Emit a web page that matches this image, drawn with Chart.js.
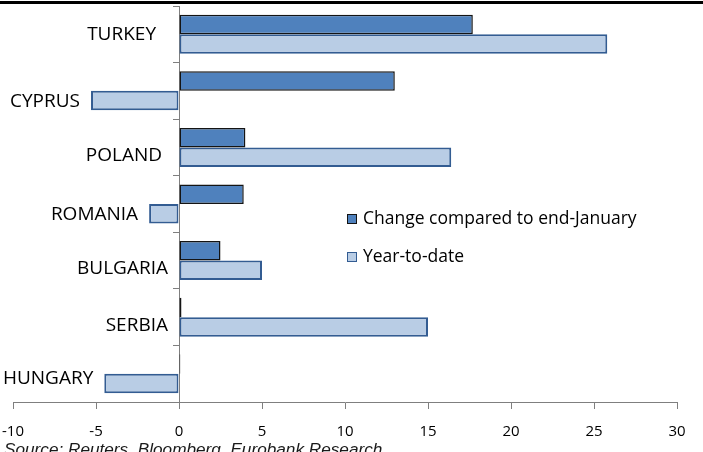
<!DOCTYPE html>
<html>
<head>
<meta charset="utf-8">
<script src="https://cdn.jsdelivr.net/npm/chart.js@4/dist/chart.umd.min.js"></script>
<style>
  html, body { margin: 0; padding: 0; background: #ffffff; }
  #wrap { width: 703px; height: 452px; position: relative; }
</style>
</head>
<body>
<div id="wrap"><canvas id="c" width="703" height="452"></canvas></div>
<script>
// Stock market performance, % change
const countries = ['TURKEY', 'CYPRUS', 'POLAND', 'ROMANIA', 'BULGARIA', 'SERBIA', 'HUNGARY'];
const changeSinceJanEnd = [17.7, 13.0, 4.0, 3.9, 2.5, 0.15, 0.08];
const yearToDate = [25.8, -5.3, 16.4, -1.8, 5.0, 15.0, -4.5];
const xTicks = [-10, -5, 0, 5, 10, 15, 20, 25, 30];
const seriesNames = ['Change compared to end-January', 'Year-to-date'];
const sourceNote = 'Source: Reuters, Bloomberg, Eurobank Research';

const FONT = '"Open Sans", "Noto Sans", sans-serif';
const AXIS_GREY = '#7f7f7f';

// Country names sit just left of the axis, or of a negative bar when there is one
const countryLabels = {
  id: 'countryLabels',
  afterDatasetsDraw(chart) {
    const ctx = chart.ctx;
    const xs = chart.scales.x;
    const meta = chart.getDatasetMeta(1);
    const nudge = {
      TURKEY: { dx: -12, dy: -10 }, POLAND: { dx: -6, dy: -2.5 },
      BULGARIA: { dx: 0, dy: -2 }, SERBIA: { dx: 0, dy: -1.5 }, HUNGARY: { dx: 0, dy: -5 }
    };
    ctx.save();
    ctx.font = '19px ' + FONT;
    ctx.fillStyle = '#000000';
    ctx.textAlign = 'right';
    ctx.textBaseline = 'middle';
    countries.forEach((name, i) => {
      const bar = meta.data[i];
      const n = nudge[name] || { dx: 0, dy: 0 };
      const xRight = xs.getPixelForValue(Math.min(0, yearToDate[i])) - 11 + n.dx;
      ctx.fillText(name, xRight, bar.y + 0.5 + n.dy);
    });
    ctx.restore();
  }
};

// Legend boxes drawn inside the plot, right of the axis
const innerLegend = {
  id: 'innerLegend',
  afterDraw(chart) {
    const ctx = chart.ctx;
    const left = 347, top = 219, rowGap = 38, box = 10;
    ctx.save();
    ctx.font = '17.5px ' + FONT;
    ctx.textBaseline = 'middle';
    ctx.textAlign = 'left';
    chart.data.datasets.forEach((ds, i) => {
      const cy = top + i * rowGap;
      ctx.fillStyle = ds.backgroundColor;
      ctx.fillRect(left, cy - box / 2, box, box);
      ctx.strokeStyle = ds.borderColor;
      ctx.lineWidth = 1;
      ctx.strokeRect(left + 0.5, cy - box / 2 + 0.5, box - 1, box - 1);
      ctx.fillStyle = '#000000';
      ctx.fillText(ds.label, left + 16, cy);
    });
    ctx.restore();
  }
};

// Rule across the top edge and the source line at the foot
const frame = {
  id: 'frame',
  afterDraw(chart) {
    const ctx = chart.ctx;
    ctx.save();
    ctx.fillStyle = '#000000';
    ctx.fillRect(0, 1, chart.width, 3);
    ctx.font = 'italic 17.2px "Liberation Sans", Arial, sans-serif';
    ctx.textAlign = 'left';
    ctx.textBaseline = 'top';
    ctx.fillStyle = '#1a1a1a';
    ctx.fillText(sourceNote, 4, 442);
    ctx.restore();
  }
};

new Chart(document.getElementById('c'), {
  type: 'bar',
  data: {
    labels: countries,
    datasets: [
      {
        label: seriesNames[0],
        data: changeSinceJanEnd,
        backgroundColor: '#4f81bd',
        borderColor: '#141414',
        borderWidth: 1.5,
        borderSkipped: false
      },
      {
        label: seriesNames[1],
        data: yearToDate,
        backgroundColor: '#b9cde5',
        borderColor: '#335c92',
        borderWidth: 2,
        borderSkipped: false
      }
    ]
  },
  options: {
    indexAxis: 'y',
    responsive: false,
    animation: false,
    devicePixelRatio: 1,
    categoryPercentage: 0.69,
    barPercentage: 1.0,
    layout: { padding: { left: 13, right: 26, top: 6, bottom: 12 } },
    plugins: {
      legend: { display: false },
      tooltip: { enabled: false }
    },
    scales: {
      x: {
        type: 'linear',
        min: -10,
        max: 30,
        afterBuildTicks: (s) => { s.ticks = xTicks.map(v => ({ value: v })); },
        afterFit: (s) => { s.height = 38; s.paddingLeft = 0; s.paddingRight = 0; },
        grid: { drawOnChartArea: false, drawTicks: true, tickLength: 7, color: AXIS_GREY },
        border: { color: AXIS_GREY, width: 1 },
        ticks: { color: '#000000', font: { family: FONT, size: 15 }, padding: 14, maxRotation: 0 }
      },
      y: {
        position: { x: 0 },
        offset: true,
        afterFit: (s) => { s.width = 0; },
        grid: { offset: true, drawOnChartArea: false, drawTicks: true, tickLength: 6, color: AXIS_GREY },
        border: { color: AXIS_GREY, width: 1 },
        ticks: { display: false }
      }
    }
  },
  plugins: [countryLabels, innerLegend, frame]
});
</script>
</body>
</html>
